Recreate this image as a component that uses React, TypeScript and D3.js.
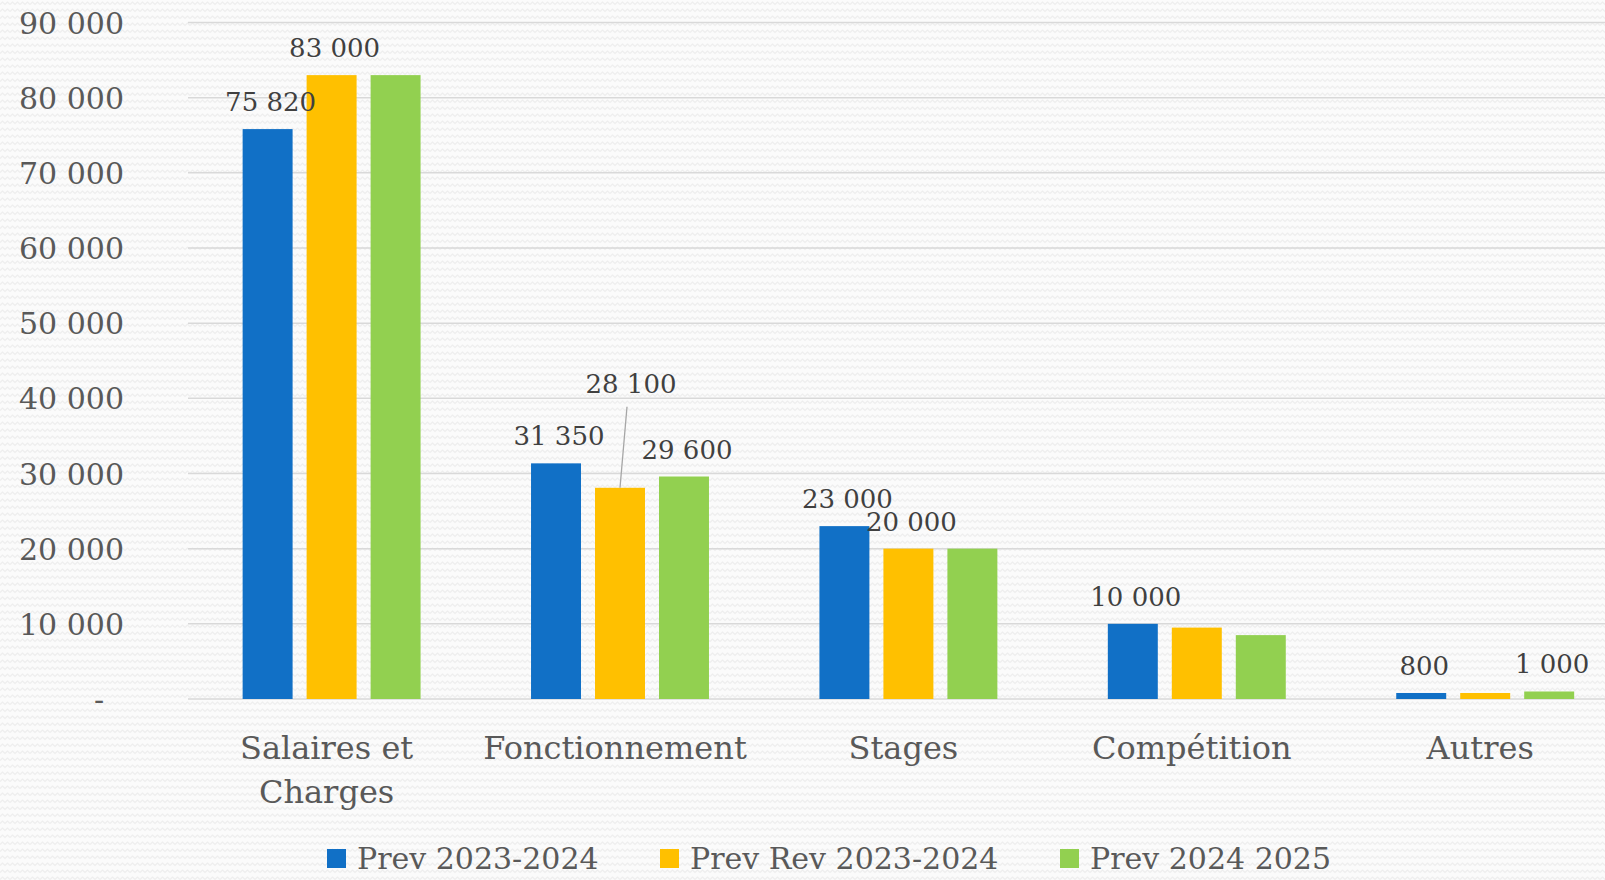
import React from "react";
import { scaleBand, scaleLinear, formatLocale } from "d3";

const categories = ["Salaires et\nCharges", "Fonctionnement", "Stages", "Compétition", "Autres"];
const seriesNames = ["Prev 2023-2024", "Prev Rev 2023-2024", "Prev 2024 2025"];

const prev2324 = [75820, 31350, 23000, 10000, 800];
const prevRev2324 = [83000, 28100, 20000, 9500, 800];
const prev2425 = [83000, 29600, 20000, 8500, 1000];

// which value labels are visible in the original (the others overlap and are hidden)
const showPrev2324 = [true, true, true, true, true];
const showPrevRev2324 = [true, true, true, false, false];
const showPrev2425 = [false, true, false, false, true];

const yTicks = [0, 10000, 20000, 30000, 40000, 50000, 60000, 70000, 80000, 90000];

const colors = ["#1170C6", "#FFC000", "#92D050"];
const W = 1605;
const H = 880;
const FONT = "'DejaVu Serif', serif";

const fmt = formatLocale({ decimal: ",", thousands: " ", grouping: [3], currency: ["", "€"] }).format(",");

export default function App() {
  const values = [prev2324, prevRev2324, prev2425];
  const shown = [showPrev2324, showPrevRev2324, showPrev2425];

  const y = scaleLinear().domain([0, 90000]).range([699, 22.5]);
  const x0 = scaleBand<string>()
    .domain(categories)
    .range([187.4, 1629.4])
    .paddingInner(0.383)
    .paddingOuter(0.1915);
  const x1 = scaleBand<string>()
    .domain(seriesNames)
    .range([0, x0.bandwidth()])
    .paddingInner(0.219);

  const legendX = [327, 660, 1060];

  return (
    <svg width={W} height={H} style={{ position: "absolute", left: 0, top: 0 }}>
      <defs>
        <pattern id="wave" width={10} height={7} patternUnits="userSpaceOnUse">
          <rect width={10} height={7} fill="#fbfbfb" />
          <path d="M0,4.5 L2.5,2 L5,4.5 L7.5,2 L10,4.5" fill="none" stroke="#eeeeee" strokeWidth={1.2} />
        </pattern>
      </defs>
      <rect width={W} height={H} fill="url(#wave)" />

      {/* grid */}
      {yTicks.map((t) => (
        <line key={t} x1={188} x2={W} y1={y(t)} y2={y(t)} stroke="#d9d9d9" strokeWidth={1.5} />
      ))}

      {/* y tick labels */}
      {yTicks.map((t) => (
        <text
          key={"l" + t}
          x={t === 0 ? 99 : 124}
          y={y(t) + 11}
          textAnchor={t === 0 ? "middle" : "end"}
          fontFamily={FONT}
          fontSize={30}
          fill="#595959"
        >
          {t === 0 ? "-" : fmt(t)}
        </text>
      ))}

      {/* bars */}
      {categories.map((c, i) => (
        <g key={c} transform={`translate(${x0(c)},0)`}>
          {seriesNames.map((s, j) => (
            <rect
              key={s}
              x={x1(s)}
              y={y(values[j][i])}
              width={x1.bandwidth()}
              height={y(0) - y(values[j][i])}
              fill={colors[j]}
            />
          ))}
        </g>
      ))}

      {/* value labels */}
      {categories.map((c, i) =>
        seriesNames.map((s, j) => {
          if (!shown[j][i]) return null;
          const v = values[j][i];
          const cx = (x0(c) ?? 0) + (x1(s) ?? 0) + x1.bandwidth() / 2;
          const top = y(v);
          const callout = j === 1 && i === 1;
          const lx = callout ? cx + 11 : cx + 3;
          const ly = callout ? top - 95 : top - 18;
          return (
            <g key={c + s}>
              {callout && (
                <line x1={cx} y1={top} x2={cx + 7} y2={top - 81} stroke="#a6a6a6" strokeWidth={1.3} />
              )}
              <text x={lx} y={ly} textAnchor="middle" fontFamily={FONT} fontSize={26} fill="#404040">
                {fmt(v)}
              </text>
            </g>
          );
        })
      )}

      {/* category labels */}
      {categories.map((c) => {
        const cx = (x0(c) ?? 0) + x0.bandwidth() / 2 - 5;
        return (
          <text key={"c" + c} textAnchor="middle" fontFamily={FONT} fontSize={32} fill="#595959">
            {c.split("\n").map((line, k) => (
              <tspan key={k} x={cx} y={759 + k * 44}>
                {line}
              </tspan>
            ))}
          </text>
        );
      })}

      {/* legend */}
      {seriesNames.map((s, j) => (
        <g key={"lg" + s}>
          <rect x={legendX[j]} y={849} width={19} height={19} fill={colors[j]} />
          <text x={legendX[j] + 30} y={869} fontFamily={FONT} fontSize={30} fill="#595959">
            {s}
          </text>
        </g>
      ))}
    </svg>
  );
}
